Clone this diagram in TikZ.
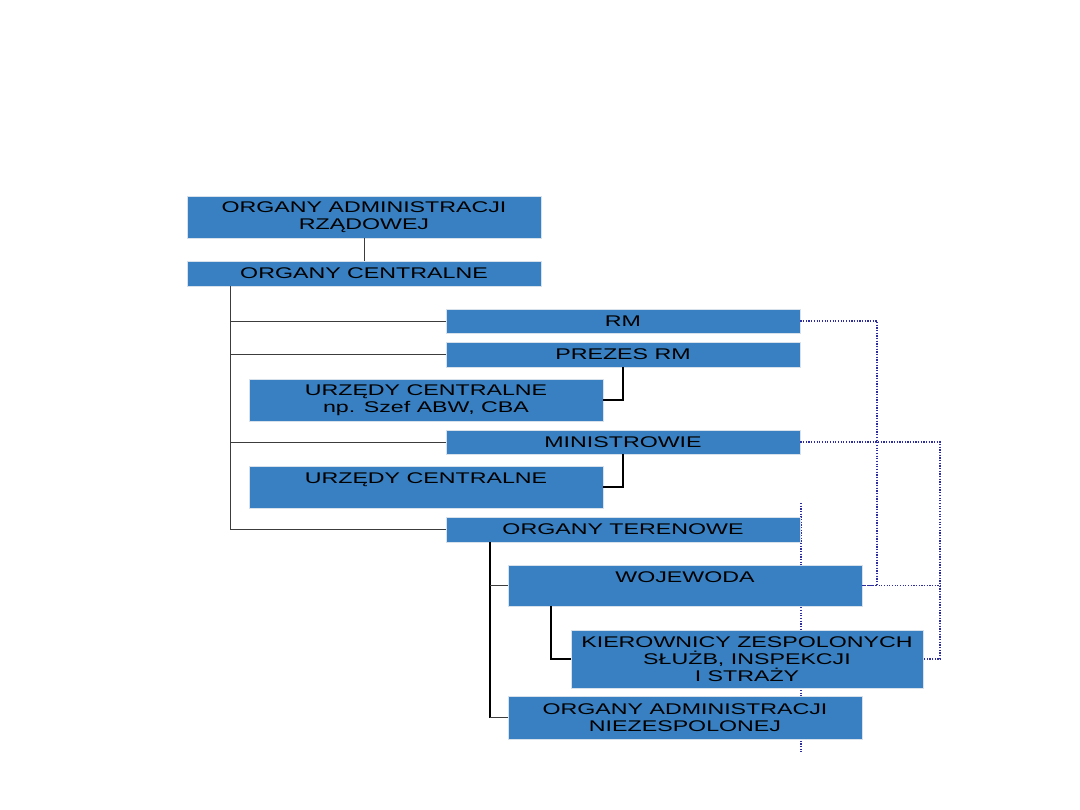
\documentclass[tikz,border=0pt]{standalone}
\usepackage{fontspec}
\usepackage{tikz}
\usetikzlibrary{calc,positioning,backgrounds}
\newfontfamily\orgfont[FakeStretch=1.5]{Liberation Sans}
\definecolor{orgblue}{RGB}{56,128,193}
\definecolor{orgedge}{RGB}{215,225,235}
\definecolor{linknavy}{RGB}{45,45,160}
\definecolor{treegrey}{RGB}{60,60,60}

\begin{document}
\begin{tikzpicture}[
  x=0.025cm,y=-0.025cm,
  font=\orgfont\fontsize{11}{12}\selectfont,
  every node/.style={align=center},
  orgbox/.style={fill=orgblue,draw=orgedge,line width=0.6pt,inner sep=0pt,
                 minimum width=8.85cm,minimum height=0.625cm,text=black},
  tree/.style={draw=treegrey,line width=0.7pt},
  hook/.style={draw=black,line width=1.1pt},
  link/.style={draw=linknavy,line width=0.9pt,densely dotted}
]
\useasboundingbox[fill=white] (0,0) rectangle (1080,810);

% --- Dotted line behind the lower boxes ---
\coordinate (vtop) at (801,503);
\coordinate (vbot) at (801,752);
\draw[link] (vtop) -- (vbot);

% --- Central level ---
\node[orgbox,minimum height=1.05cm] (adm) at (364,217)
  {ORGANY ADMINISTRACJI\\RZĄDOWEJ};
\node[orgbox] (cent) at (364,273.5) {ORGANY CENTRALNE};

\node[orgbox,minimum height=0.6cm] (rm) at (623,321) {RM};
\node[orgbox] (prez) at (623,354.5) {PREZES RM};
\node[orgbox,minimum height=1.05cm] (urz1) at (426,400)
  {URZĘDY CENTRALNE\\np. Szef ABW, CBA};
\node[orgbox,minimum height=0.6cm] (min) at (623,442) {MINISTROWIE};
\node[orgbox,minimum height=1.05cm] (urz2) at (426,487)
  {URZĘDY CENTRALNE\\\mbox{}};
\node[orgbox] (ter) at (623,529.5) {ORGANY TERENOWE};

% --- Terrain level ---
\node[orgbox,minimum height=1.025cm] (woj) at (685,585.5)
  {WOJEWODA\\\mbox{}};
\node[orgbox,minimum width=8.8cm,minimum height=1.45cm] (kier) at (747,659)
  {KIEROWNICY ZESPOLONYCH\\SŁUŻB, INSPEKCJI\\I STRAŻY};
\node[orgbox,minimum height=1.075cm] (niez) at (685,717.5)
  {ORGANY ADMINISTRACJI\\NIEZESPOLONEJ};

% --- Solid tree lines ---
\draw[tree] (adm) -- (cent);
\coordinate (trunkA) at (230,286);
\draw[tree] (trunkA) |- (ter.west);
\draw[tree] (trunkA |- rm.west) -- (rm.west);
\draw[tree] (trunkA |- prez.west) -- (prez.west);
\draw[tree] (trunkA |- min.west) -- (min.west);

\draw[hook] (prez.south) |- (urz1.east);
\draw[hook] (min.south) |- (urz2.east);

\coordinate (trunkB) at (490,542);
\draw[hook,line width=1.4pt] (trunkB) -- (trunkB |- niez.west);
\draw[tree] (trunkB |- niez.west) -- (niez.west);
\draw[tree] (trunkB |- woj.west) -- (woj.west);

\coordinate (wojdrop) at (551,606);
\draw[hook,line width=0.9pt] (wojdrop) |- (kier.west);

% --- Dotted supervision lines ---
\coordinate (rmbus) at (877,321);
\coordinate (minbus) at (940,442);
\draw[link] (rm.east) -- (rmbus) |- (woj.east);
\draw[link] (min.east) -- (minbus) |- (kier.east);
\draw[link] (woj.east) -- (minbus |- woj.east);
\end{tikzpicture}
\end{document}
